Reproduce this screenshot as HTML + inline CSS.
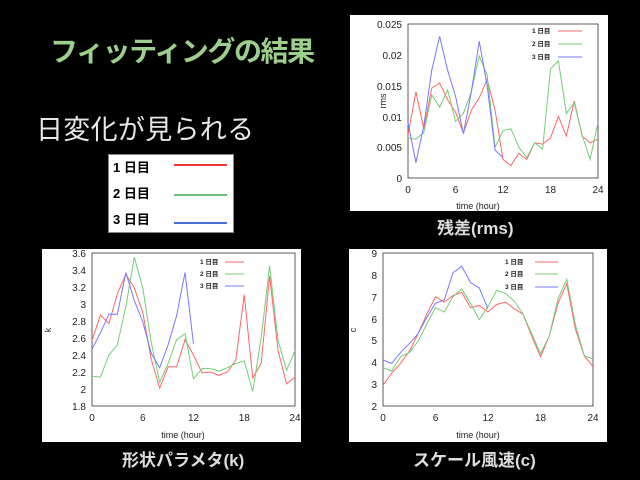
<!DOCTYPE html>
<html><head><meta charset="utf-8"><style>
html,body{margin:0;padding:0;background:#000;width:640px;height:480px;overflow:hidden;position:relative;font-family:"Liberation Sans","Noto Sans CJK JP",sans-serif}
.t{position:absolute;white-space:nowrap}
</style></head><body>
<div class="t" style="left:50px;top:30px;font-size:28px;font-weight:bold;color:#9ccf8c;letter-spacing:-1.4px">フィッティングの結果</div>
<div class="t" style="left:36px;top:108px;font-size:27px;color:#e6e6e6;letter-spacing:0.3px">日変化が見られる</div>
<div style="position:absolute;left:108px;top:154px;width:124px;height:77px;background:#fff;border:1px solid #888"></div>
<div class="t" style="left:113px;top:155px;font-size:13px;font-weight:bold;color:#000;line-height:26px">1 日目<br>2 日目<br>3 日目</div>
<div style="position:absolute;left:174px;top:164px;width:53px;height:2px;background:#f03535"></div>
<div style="position:absolute;left:174px;top:194px;width:53px;height:2px;background:#6cc07a"></div>
<div style="position:absolute;left:174px;top:222px;width:53px;height:2px;background:#4a70d8"></div>

<div class="t" style="left:437px;top:214px;font-size:17px;font-weight:bold;color:#ddd">残差(rms)</div>
<div class="t" style="left:122px;top:446px;font-size:17px;font-weight:bold;color:#ddd">形状パラメタ(k)</div>
<div class="t" style="left:413px;top:446px;font-size:17px;font-weight:bold;color:#ddd">スケール風速(c)</div>

<svg width="640" height="480" style="position:absolute;left:0;top:0" font-family="Liberation Sans, Noto Sans CJK JP, sans-serif">
<rect x="350" y="15" width="258" height="196" fill="#fff"/>
<rect x="42" y="249" width="259" height="193" fill="#fff"/>
<rect x="349" y="249" width="258" height="193" fill="#fff"/>

<g font-size="10" fill="#222">
<rect x="408" y="24" width="190" height="154" fill="none" stroke="#333" stroke-width="0.8"/>
<g text-anchor="end"><text x="402" y="28">0.025</text><text x="402" y="59">0.02</text><text x="402" y="90">0.015</text><text x="402" y="121">0.01</text><text x="402" y="151">0.005</text><text x="402" y="182">0</text></g>
<g text-anchor="middle"><text x="408" y="193">0</text><text x="455.5" y="193">6</text><text x="503" y="193">12</text><text x="550.5" y="193">18</text><text x="598" y="193">24</text><text x="478" y="209" font-size="9">time (hour)</text></g>
<text x="386" y="101" font-size="9" transform="rotate(-90 386 101)" text-anchor="middle">rms</text>
<g font-size="6.5" font-weight="bold"><text x="532" y="33">1 日目</text><text x="532" y="46">2 日目</text><text x="532" y="59">3 日目</text></g>
<line x1="558" y1="31" x2="582" y2="31" stroke="#f66" stroke-width="1"/>
<line x1="558" y1="44" x2="582" y2="44" stroke="#7c7" stroke-width="1"/>
<line x1="558" y1="57" x2="582" y2="57" stroke="#77f" stroke-width="1"/>
</g>
<svg x="408" y="24" width="190" height="154" viewBox="0 -25 24 25" preserveAspectRatio="none" overflow="visible">
<g fill="none">
<polyline vector-effect="non-scaling-stroke" stroke="#f66" points="0,-7 1,-14 2,-8 3,-14.6 4,-15.4 5,-12.7 6,-10.7 7,-7.3 8,-11 9,-13 10,-16 11,-11 12,-3 13,-2 14,-4 15,-3 16,-5.7 17,-5.5 18,-6.5 19,-10 20,-6.8 21,-12.5 22,-6.8 23,-5.7 24,-6.3"/>
<polyline vector-effect="non-scaling-stroke" stroke="#7c7" points="0,-6.5 1,-6.3 2,-7.4 3,-13.5 4,-11.5 5,-14.3 6,-9.2 7,-10.5 8,-14 9,-19.8 10,-16.7 11,-5 12,-7.7 13,-8 14,-5 15,-3.3 16,-5.7 17,-4.7 18,-17.7 19,-19 20,-10.5 21,-12.2 22,-7 23,-3 24,-9"/>
<polyline vector-effect="non-scaling-stroke" stroke="#77f" points="0,-9 1,-2.5 2,-8.5 3,-17.5 4,-23 5,-17.5 6,-13.3 7,-7.2 8,-14 9,-22.2 10,-15 11,-4.5 12,-3.3"/>
</g></svg>

<g font-size="10" fill="#222">
<rect x="92" y="253" width="203" height="153" fill="none" stroke="#333" stroke-width="0.8"/>
<g text-anchor="end"><text x="86" y="257">3.6</text><text x="86" y="274">3.4</text><text x="86" y="291">3.2</text><text x="86" y="308">3</text><text x="86" y="325">2.8</text><text x="86" y="342">2.6</text><text x="86" y="359">2.4</text><text x="86" y="376">2.2</text><text x="86" y="393">2</text><text x="86" y="410">1.8</text></g>
<g text-anchor="middle"><text x="92" y="421">0</text><text x="142.75" y="421">6</text><text x="193.5" y="421">12</text><text x="244.25" y="421">18</text><text x="295" y="421">24</text><text x="183" y="438" font-size="9">time (hour)</text></g>
<text x="51" y="330" font-size="9" transform="rotate(-90 51 330)" text-anchor="middle">k</text>
<g font-size="6.5" font-weight="bold"><text x="200" y="264">1 日目</text><text x="200" y="276">2 日目</text><text x="200" y="288">3 日目</text></g>
<line x1="225" y1="262" x2="244" y2="262" stroke="#f66"/>
<line x1="225" y1="274" x2="244" y2="274" stroke="#7c7"/>
<line x1="225" y1="286" x2="244" y2="286" stroke="#77f"/>
</g>
<svg x="92" y="253" width="203" height="153" viewBox="0 -360 24 180" preserveAspectRatio="none" overflow="visible">
<g fill="none">
<polyline vector-effect="non-scaling-stroke" stroke="#f66" points="0,-257 1,-287 2,-277 3,-312 4,-335 5,-319 6,-290 7,-235 8,-201 9,-226 10,-226 11,-258 12,-240 13,-219 14,-220 15,-216 16,-220 17,-234 18,-311 19,-213 20,-230 21,-333 22,-245 23,-206 24,-214"/>
<polyline vector-effect="non-scaling-stroke" stroke="#7c7" points="0,-215 1,-214 2,-240 3,-252 4,-297 5,-355 6,-319 7,-255 8,-208 9,-230 10,-258 11,-265 12,-212 13,-224 14,-224 15,-221 16,-225 17,-230 18,-233 19,-197 20,-260 21,-345 22,-257 23,-222 24,-245"/>
<polyline vector-effect="non-scaling-stroke" stroke="#77f" points="0,-247 1,-266 2,-288 3,-288 4,-337 5,-304 6,-279 7,-242 8,-225 9,-252 10,-286 11,-337 12,-253"/>
</g></svg>

<g font-size="10" fill="#222">
<rect x="383" y="253" width="210" height="153" fill="none" stroke="#333" stroke-width="0.8"/>
<g text-anchor="end"><text x="377" y="257">9</text><text x="377" y="279">8</text><text x="377" y="301">7</text><text x="377" y="323">6</text><text x="377" y="344">5</text><text x="377" y="366">4</text><text x="377" y="388">3</text><text x="377" y="410">2</text></g>
<g text-anchor="middle"><text x="383" y="421">0</text><text x="435.5" y="421">6</text><text x="488" y="421">12</text><text x="540.5" y="421">18</text><text x="593" y="421">24</text><text x="478" y="438" font-size="9">time (hour)</text></g>
<text x="356" y="330" font-size="9" transform="rotate(-90 356 330)" text-anchor="middle">c</text>
<g font-size="6.5" font-weight="bold"><text x="505" y="264">1 日目</text><text x="505" y="276">2 日目</text><text x="505" y="289">3 日目</text></g>
<line x1="535" y1="262" x2="558" y2="262" stroke="#f66"/>
<line x1="535" y1="274" x2="558" y2="274" stroke="#7c7"/>
<line x1="535" y1="287" x2="558" y2="287" stroke="#77f"/>
</g>
<svg x="383" y="253" width="210" height="153" viewBox="0 -9 24 7" preserveAspectRatio="none" overflow="visible">
<g fill="none">
<polyline vector-effect="non-scaling-stroke" stroke="#f66" points="0,-2.95 1,-3.5 2,-3.95 3,-4.5 4,-5.3 5,-6.2 6,-7 7,-6.75 8,-7.05 9,-7.2 10,-6.5 11,-6.6 12,-6.3 13,-6.65 14,-6.75 15,-6.45 16,-6.2 17,-5.2 18,-4.25 19,-5.2 20,-6.7 21,-7.6 22,-5.5 23,-4.3 24,-3.8"/>
<polyline vector-effect="non-scaling-stroke" stroke="#7c7" points="0,-3.75 1,-3.6 2,-4.25 3,-4.45 4,-4.95 5,-5.75 6,-6.5 7,-6.3 8,-7 9,-7.35 10,-6.7 11,-5.95 12,-6.55 13,-7.3 14,-7.15 15,-6.8 16,-6.2 17,-5.3 18,-4.4 19,-5.2 20,-6.9 21,-7.8 22,-5.7 23,-4.3 24,-4.15"/>
<polyline vector-effect="non-scaling-stroke" stroke="#77f" points="0,-4.1 1,-3.95 2,-4.45 3,-4.85 4,-5.3 5,-6.05 6,-6.7 7,-6.85 8,-8.1 9,-8.4 10,-7.65 11,-7.4 12,-6.45"/>
</g></svg>
</svg>
</body></html>
